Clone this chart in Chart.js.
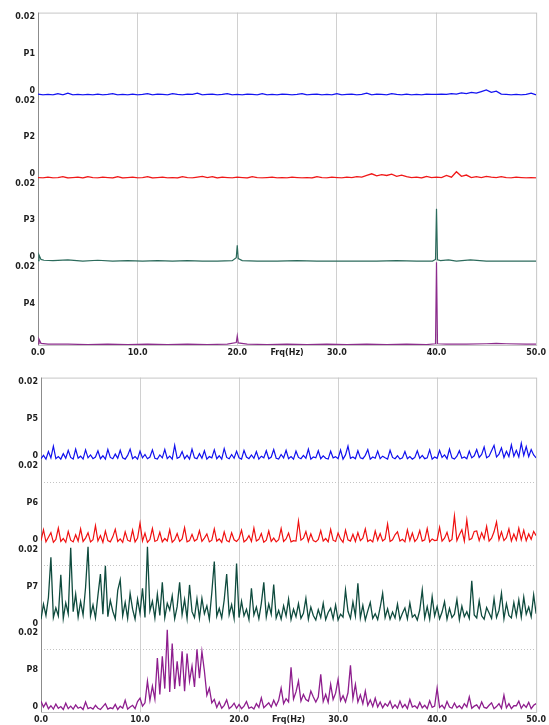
<!DOCTYPE html>
<html>
<head>
  <title>Spectra P1-P8</title>
  <script src="https://cdn.jsdelivr.net/npm/chart.js"></script>
<style>
body {
  margin: 0;
  background: #ffffff;
  width: 549px;
  height: 725px;
  overflow: hidden;
  position: relative;
}
.box {
  position: absolute;
  left: 0;
  width: 549px;
}
#topBox { top: 0; height: 365px; }
#botBox { top: 365px; height: 360px; }
</style>
</head>
<body>

  <div class="box" id="topBox"><canvas id="topChart"></canvas></div>
  <div class="box" id="botBox"><canvas id="botChart"></canvas></div>

  <script>
    // amplitudes are written in units of 0.001
    const UNIT = 0.001;
    const xTicks = [0, 10, 20, 30, 40, 50];

    // P1, P2: one value every 0.5 Hz
    const stepTop = 0.5;
    const p1 = [
      0.4, 0.2, 0.3, 0.2, 0.5, 0.2, 0.6, 0.2, 0.3, 0.2, 0.3, 0.2, 0.4, 0.2, 0.3, 0.5, 0.2, 0.3, 0.2, 0.4,
      0.2, 0.3, 0.5, 0.2, 0.4, 0.3, 0.2, 0.5, 0.3, 0.2, 0.4, 0.3, 0.6, 0.2, 0.3, 0.4, 0.2, 0.3, 0.5, 0.2,
      0.3, 0.2, 0.4, 0.3, 0.2, 0.5, 0.2, 0.3, 0.2, 0.4, 0.3, 0.2, 0.3, 0.5, 0.2, 0.3, 0.4, 0.2, 0.3, 0.2,
      0.5, 0.2, 0.3, 0.4, 0.2, 0.3, 0.6, 0.2, 0.4, 0.3, 0.2, 0.5, 0.3, 0.2, 0.4, 0.2, 0.3, 0.2, 0.4, 0.3,
      0.3, 0.4, 0.3, 0.5, 0.4, 0.7, 0.5, 0.8, 0.6, 1.0, 1.4, 0.8, 1.1, 0.4, 0.3, 0.2, 0.3, 0.2, 0.3, 0.6, 0.2
    ];
    const p2 = [
      0.3, 0.2, 0.4, 0.2, 0.3, 0.5, 0.2, 0.3, 0.4, 0.2, 0.5, 0.3, 0.2, 0.4, 0.3, 0.2, 0.5, 0.2, 0.3, 0.4,
      0.2, 0.3, 0.5, 0.2, 0.3, 0.4, 0.2, 0.3, 0.2, 0.5, 0.3, 0.2, 0.4, 0.6, 0.3, 0.5, 0.2, 0.4, 0.3, 0.2,
      0.4, 0.3, 0.2, 0.5, 0.3, 0.2, 0.3, 0.4, 0.2, 0.3, 0.2, 0.4, 0.3, 0.2, 0.3, 0.2, 0.5, 0.3, 0.2, 0.4,
      0.3, 0.2, 0.4, 0.3, 0.5, 0.4, 0.8, 1.2, 0.7, 1.0, 0.8, 1.1, 0.6, 0.9, 0.5, 0.3, 0.4, 0.2, 0.6, 0.3,
      0.4, 0.3, 0.8, 0.4, 1.7, 0.6, 0.9, 0.3, 0.5, 0.3, 0.6, 0.4, 0.3, 0.5, 0.3, 0.2, 0.4, 0.3, 0.2, 0.3, 0.2
    ];

    // P3, P4: frequency / value pairs (sharp lines at 20 and 40 Hz)
    const p3Freq = [0, 0.1, 0.3, 0.6, 1.5, 3, 4.5, 6, 7.5, 9, 10.5, 12, 13.5, 15, 16.5, 18, 19.5, 19.9, 20, 20.1,
      20.5, 22, 24, 26, 28, 30, 32, 34, 36, 38, 39.6, 39.9, 40, 40.1, 40.4, 41.2, 42, 43.4, 45, 47, 49, 50];
    const p3 = [0.3, 1.7, 0.6, 0.4, 0.3, 0.5, 0.2, 0.4, 0.2, 0.3, 0.2, 0.3, 0.2, 0.3, 0.2, 0.2, 0.3, 1.0, 4.0, 0.8,
      0.3, 0.2, 0.2, 0.3, 0.2, 0.2, 0.2, 0.2, 0.3, 0.2, 0.2, 0.6, 12.8, 0.5, 0.3, 0.5, 0.2, 0.5, 0.2, 0.2, 0.2, 0.2];
    const p4Freq = [0, 0.1, 0.3, 1, 3, 5, 7, 9, 11, 13, 15, 17, 19, 19.9, 20, 20.1, 21, 23, 25, 27,
      29, 31, 33, 35, 37, 39, 39.9, 40, 40.1, 41, 43, 45, 46, 47, 49, 50];
    const p4 = [0.3, 1.4, 0.4, 0.2, 0.2, 0.1, 0.2, 0.1, 0.2, 0.1, 0.2, 0.1, 0.2, 0.6, 2.2, 0.5, 0.2, 0.1, 0.2, 0.1,
      0.2, 0.1, 0.2, 0.1, 0.2, 0.1, 0.3, 19.9, 0.3, 0.2, 0.2, 0.3, 0.4, 0.3, 0.2, 0.2];

    // P5..P8: one value every 0.25 Hz, one row per 4 Hz
    const stepBot = 0.25;
    const p5 = [
      0.6, 1.4, 0.5, 2.3, 0.8, 3.6, 0.6, 1.1, 0.5, 1.8, 0.7, 2.6, 0.9, 0.5, 2.9, 0.7,
      1.2, 0.5, 2.7, 0.8, 1.5, 0.6, 1.0, 2.5, 0.6, 1.3, 0.5, 2.8, 0.9, 0.6, 1.7, 0.7,
      2.6, 0.8, 0.5, 1.4, 2.9, 0.6, 1.1, 0.5, 2.4, 0.8, 1.6, 0.6, 1.0, 2.7, 0.7, 0.5,
      1.5, 0.8, 2.8, 0.6, 1.2, 0.5, 3.8, 0.7, 1.0, 2.3, 0.6, 1.4, 0.5, 2.9, 0.8, 0.6,
      1.8, 0.7, 2.5, 0.5, 1.1, 0.8, 2.7, 0.6, 1.3, 0.5, 3.0, 0.9, 0.6, 1.6, 0.7, 2.4,
      0.8, 0.5, 2.6, 1.0, 0.6, 1.5, 0.7, 2.3, 0.5, 1.2, 0.8, 2.5, 0.6, 1.0, 2.8, 0.7,
      0.5, 1.6, 0.8, 2.6, 0.6, 1.1, 0.5, 2.4, 0.9, 0.6, 1.4, 0.7, 2.9, 0.5, 1.0, 0.8,
      2.5, 0.6, 1.3, 0.7, 0.5, 2.4, 0.8, 1.1, 0.6, 2.7, 0.5, 1.5, 3.6, 0.7, 1.0, 0.6,
      2.5, 0.8, 0.6, 1.4, 2.8, 0.5, 1.0, 0.7, 2.4, 0.6, 1.2, 0.8, 0.5, 2.6, 0.9, 0.6,
      1.3, 0.5, 0.8, 2.3, 0.6, 1.1, 0.5, 0.9, 2.5, 0.7, 1.4, 0.6, 0.8, 2.7, 0.5, 1.0,
      0.7, 2.6, 0.9, 1.5, 0.6, 2.9, 0.8, 0.5, 1.2, 2.5, 0.7, 1.0, 0.6, 2.4, 0.8, 1.3,
      2.8, 0.9, 1.6, 3.4, 0.8, 1.2, 2.5, 3.8, 1.0, 1.7, 3.2, 0.9, 2.4, 1.1, 3.9, 1.2,
      2.6, 1.0, 4.3, 1.4, 3.5, 1.1, 2.8, 1.5, 0.8
    ];
    const p6 = [
      1.0, 3.6, 0.7, 1.8, 2.9, 0.6, 1.3, 4.0, 0.8, 1.5, 0.6, 3.2, 1.1, 0.7, 2.4, 0.9,
      3.8, 0.8, 1.6, 2.9, 0.7, 1.2, 4.6, 0.9, 2.2, 0.6, 3.3, 1.0, 0.7, 1.9, 3.7, 0.8,
      1.4, 0.6, 3.1, 1.1, 0.8, 3.5, 0.7, 1.6, 5.2, 0.9, 2.8, 0.6, 1.3, 3.9, 0.8, 1.1,
      3.0, 0.7, 1.5, 0.9, 3.6, 0.6, 1.2, 2.7, 0.8, 1.4, 4.1, 0.7, 1.0, 2.5, 0.9, 1.3,
      3.4, 0.8, 1.6, 2.6, 0.7, 1.1, 3.8, 0.9, 1.4, 0.6, 3.1, 1.0, 0.7, 2.9, 1.2, 0.8,
      1.5, 3.5, 0.7, 1.2, 2.2, 0.8, 4.0, 0.9, 1.3, 2.7, 0.6, 1.1, 3.3, 0.8, 1.6, 0.7,
      1.2, 3.9, 0.8, 1.4, 2.8, 0.7, 1.0, 0.9, 5.7, 1.1, 1.6, 3.2, 0.8, 2.6, 1.0, 0.7,
      1.3, 3.4, 0.9, 1.5, 0.7, 3.7, 1.1, 0.8, 2.8, 1.4, 0.6, 3.5, 1.2, 0.9, 2.5, 0.8,
      2.9, 1.0, 1.6, 3.8, 0.8, 1.2, 0.7, 3.3, 1.1, 2.7, 0.9, 1.4, 5.0, 0.8, 1.2, 2.4,
      3.1, 0.9, 1.3, 0.7, 3.6, 1.0, 2.8, 0.8, 1.5, 3.4, 0.9, 1.2, 3.9, 0.7, 1.4, 1.0,
      1.1, 4.2, 0.9, 1.6, 3.0, 0.8, 1.3, 6.9, 1.0, 2.4, 3.6, 0.9, 6.0, 1.2, 1.5, 3.2,
      3.3, 1.0, 2.9, 1.4, 4.4, 0.9, 1.6, 3.1, 5.5, 1.2, 3.1, 1.0, 1.7, 3.8, 0.9, 2.6,
      1.1, 4.0, 1.2, 3.5, 1.0, 2.6, 1.3, 3.2, 2.2
    ];
    const p7 = [
      2.2, 5.8, 3.1, 7.4, 17.0, 2.6, 4.9, 3.0, 12.8, 2.4, 6.1, 3.5, 19.3, 4.0, 8.2, 2.7,
      6.4, 3.2, 9.8, 19.5, 3.0, 5.6, 2.5, 7.9, 13.0, 3.4, 15.0, 2.8, 6.7, 4.1, 2.3, 9.1,
      11.6, 3.0, 6.2, 2.4, 8.4, 4.6, 2.2, 7.0, 3.6, 9.6, 2.6, 19.5, 4.2, 6.5, 2.5, 8.2,
      3.1, 11.0, 2.6, 6.0, 4.4, 7.8, 2.3, 5.2, 11.0, 3.3, 6.9, 2.4, 10.4, 4.0, 2.6, 7.1,
      2.4, 7.2, 3.5, 5.4, 2.2, 8.6, 16.0, 2.9, 4.8, 2.5, 6.8, 13.0, 3.3, 5.7, 2.4, 15.5,
      2.6, 6.5, 3.0, 4.6, 2.1, 9.6, 3.2, 5.1, 2.3, 6.0, 11.0, 2.7, 5.8, 3.4, 10.5, 2.5,
      4.3, 2.2, 5.4, 3.0, 7.0, 2.1, 4.6, 2.8, 5.9, 2.4, 3.6, 7.2, 2.2, 5.1, 3.1, 2.0,
      4.5, 2.6, 6.0, 2.1, 3.8, 4.8, 2.3, 5.6, 2.0, 3.4, 2.7, 9.2, 4.1, 2.4, 6.3, 3.0,
      10.8, 2.5, 5.5, 2.0, 4.2, 6.2, 2.4, 3.5, 2.1, 5.0, 8.4, 2.6, 4.7, 2.2, 3.9, 2.5,
      5.8, 2.1, 3.6, 4.9, 2.3, 6.1, 2.7, 3.3, 2.0, 4.4, 9.2, 2.5, 5.2, 2.2, 7.6, 3.0,
      5.2, 2.3, 3.9, 6.4, 2.2, 4.8, 2.6, 3.4, 6.9, 2.1, 5.3, 2.8, 4.0, 2.4, 11.4, 3.2,
      2.5, 6.6, 3.0, 2.2, 5.0, 3.7, 2.4, 7.1, 2.6, 4.3, 8.4, 2.3, 5.9, 3.1, 2.5, 6.2,
      3.0, 6.8, 2.7, 7.5, 3.4, 5.1, 2.8, 8.0, 3.5
    ];
    const p8 = [
      2.6, 1.2, 2.2, 0.8, 1.5, 0.7, 1.9, 0.9, 1.3, 0.6, 2.1, 0.8, 1.4, 0.7, 1.7, 0.9,
      1.2, 0.6, 2.4, 0.8, 1.1, 0.7, 1.6, 0.9, 0.6, 1.3, 2.0, 0.7, 1.0, 0.8, 1.8, 0.6,
      1.4, 0.9, 2.8, 0.7, 1.2, 1.6, 0.8, 2.5, 3.3, 1.4, 2.2, 7.4, 2.8, 6.2, 3.1, 12.9,
      4.2, 13.3, 5.6, 19.7, 4.8, 16.4, 5.5, 12.1, 6.2, 14.5, 5.0, 14.0, 7.4, 11.0, 6.0, 15.0,
      8.1, 14.5, 9.8, 4.0, 5.7, 2.2, 3.0, 1.1, 2.4, 0.9, 1.6, 2.9, 0.8, 1.3, 2.1, 0.9,
      1.8, 0.8, 1.4, 2.5, 0.9, 1.2, 0.7, 2.0, 1.1, 3.4, 1.0, 1.6, 2.2, 1.2, 2.8, 1.5,
      2.8, 5.7, 2.0, 3.2, 2.4, 10.7, 3.1, 4.8, 7.4, 2.6, 4.2, 3.0, 2.6, 5.0, 3.6, 2.4,
      3.6, 9.0, 2.5, 4.2, 2.3, 6.6, 3.0, 4.5, 7.8, 2.7, 3.9, 2.4, 4.6, 11.2, 3.2, 6.6,
      2.4, 4.1, 2.0, 5.0, 1.6, 2.9, 1.3, 3.3, 1.2, 2.4, 1.0, 2.0, 1.4, 2.6, 0.9, 1.7,
      0.9, 2.6, 1.1, 1.8, 0.8, 3.0, 1.2, 1.5, 0.9, 2.3, 1.0, 1.6, 0.8, 2.7, 1.1, 1.4,
      5.7, 1.1, 1.6, 0.8, 2.5, 1.2, 0.9, 2.1, 1.0, 1.5, 0.8, 2.0, 1.2, 3.6, 0.9, 1.4,
      1.7, 0.8, 2.4, 1.1, 0.9, 1.6, 2.2, 0.8, 1.3, 2.0, 0.9, 4.0, 1.0, 2.0, 0.8, 1.5,
      1.5, 2.6, 0.9, 1.8, 1.1, 2.3, 0.8, 1.6, 2.0
    ];

    const labelFont = { family: 'DejaVu Sans', size: 8, weight: 'bold' };
    const labelColor = '#1e1e1e';

    function series(freqs, vals, axis, color, width) {
      return {
        data: vals.map((v, i) => ({ x: freqs[i], y: v * UNIT })),
        yAxisID: axis,
        borderColor: color,
        borderWidth: width,
        pointRadius: 0,
        tension: 0,
        fill: false
      };
    }
    function evenFreqs(vals, step) {
      return vals.map((_, i) => i * step);
    }

    function yScale(name, width, dotted) {
      const tickVals = dotted ? [0, 0.01, 0.015, 0.02] : [0, 0.01, 0.02];
      return {
        type: 'linear',
        position: 'left',
        stack: 'panels',
        stackWeight: 1,
        min: 0,
        max: 0.02,
        afterBuildTicks: s => { s.ticks = tickVals.map(v => ({ value: v })); },
        afterFit: s => { s.width = width; },
        ticks: {
          font: labelFont,
          color: labelColor,
          padding: 3,
          autoSkip: false,
          callback: v => v === 0 ? ['0', ''] : v === 0.02 ? ['', '0.02'] : v === 0.01 ? name : ''
        },
        grid: {
          drawTicks: false,
          lineWidth: 1,
          color: c => (c.tick && c.tick.value === 0.015) ? '#c4c4c4' : 'rgba(0,0,0,0)'
        },
        border: { display: false, dash: [1, 2] }
      };
    }

    function xScale() {
      return {
        type: 'linear',
        min: 0,
        max: 50,
        afterBuildTicks: s => { s.ticks = xTicks.map(v => ({ value: v })); },
        afterFit: s => { s.height = 13; },
        ticks: {
          font: labelFont,
          color: labelColor,
          padding: 3,
          maxRotation: 0,
          autoSkip: false,
          callback: v => v.toFixed(1)
        },
        grid: {
          drawTicks: false,
          color: c => (c.tick && (c.tick.value === 0 || c.tick.value === 50)) ? 'rgba(0,0,0,0)' : '#d0d0d0'
        },
        border: { display: false },
        title: {
          display: true,
          text: 'Frq(Hz)',
          font: labelFont,
          color: labelColor,
          padding: { top: 0, bottom: 0 }
        }
      };
    }

    // plot frame, left side darker
    const framePlugin = {
      id: 'frame',
      beforeDatasetsDraw(chart) {
        const a = chart.chartArea;
        const ctx = chart.ctx;
        ctx.save();
        ctx.lineWidth = 1;
        ctx.strokeStyle = '#c6c6c6';
        ctx.strokeRect(a.left + 0.5, a.top + 0.5, a.right - a.left, a.bottom - a.top);
        ctx.strokeStyle = '#8c8c8c';
        ctx.beginPath();
        ctx.moveTo(a.left + 0.5, a.top);
        ctx.lineTo(a.left + 0.5, a.bottom);
        ctx.stroke();
        ctx.restore();
      }
    };

    function makeChart(id, datasets, scales, padding) {
      return new Chart(document.getElementById(id), {
        type: 'line',
        data: { datasets: datasets },
        options: {
          responsive: true,
          maintainAspectRatio: false,
          animation: false,
          events: [],
          layout: { padding: padding },
          plugins: { legend: { display: false }, tooltip: { enabled: false } },
          scales: scales
        },
        plugins: [framePlugin]
      });
    }

    // stacked axes are placed bottom-up, so the lowest panel comes first
    makeChart('topChart', [
      series(evenFreqs(p1, stepTop), p1, 'y1', '#1414f0', 1.3),
      series(evenFreqs(p2, stepTop), p2, 'y2', '#f01818', 1.3),
      series(p3Freq, p3, 'y3', '#2c6b5c', 1.2),
      series(p4Freq, p4, 'y4', '#8c2c8c', 1.2)
    ], {
      x: xScale(),
      y4: yScale('P4', 36, false),
      y3: yScale('P3', 36, false),
      y2: yScale('P2', 36, false),
      y1: yScale('P1', 36, false)
    }, { left: 2, right: 12, top: 10, bottom: 7 });

    makeChart('botChart', [
      series(evenFreqs(p5, stepBot), p5, 'y5', '#1010ee', 1.2),
      series(evenFreqs(p6, stepBot), p6, 'y6', '#f01010', 1.2),
      series(evenFreqs(p7, stepBot), p7, 'y7', '#0f4b3e', 1.3),
      series(evenFreqs(p8, stepBot), p8, 'y8', '#8e1e8e', 1.3)
    ], {
      x: xScale(),
      y8: yScale('P8', 39, true),
      y7: yScale('P7', 39, true),
      y6: yScale('P6', 39, true),
      y5: yScale('P5', 39, false)
    }, { left: 2, right: 10, top: 10, bottom: 0 });
  </script>

</body>
</html>
